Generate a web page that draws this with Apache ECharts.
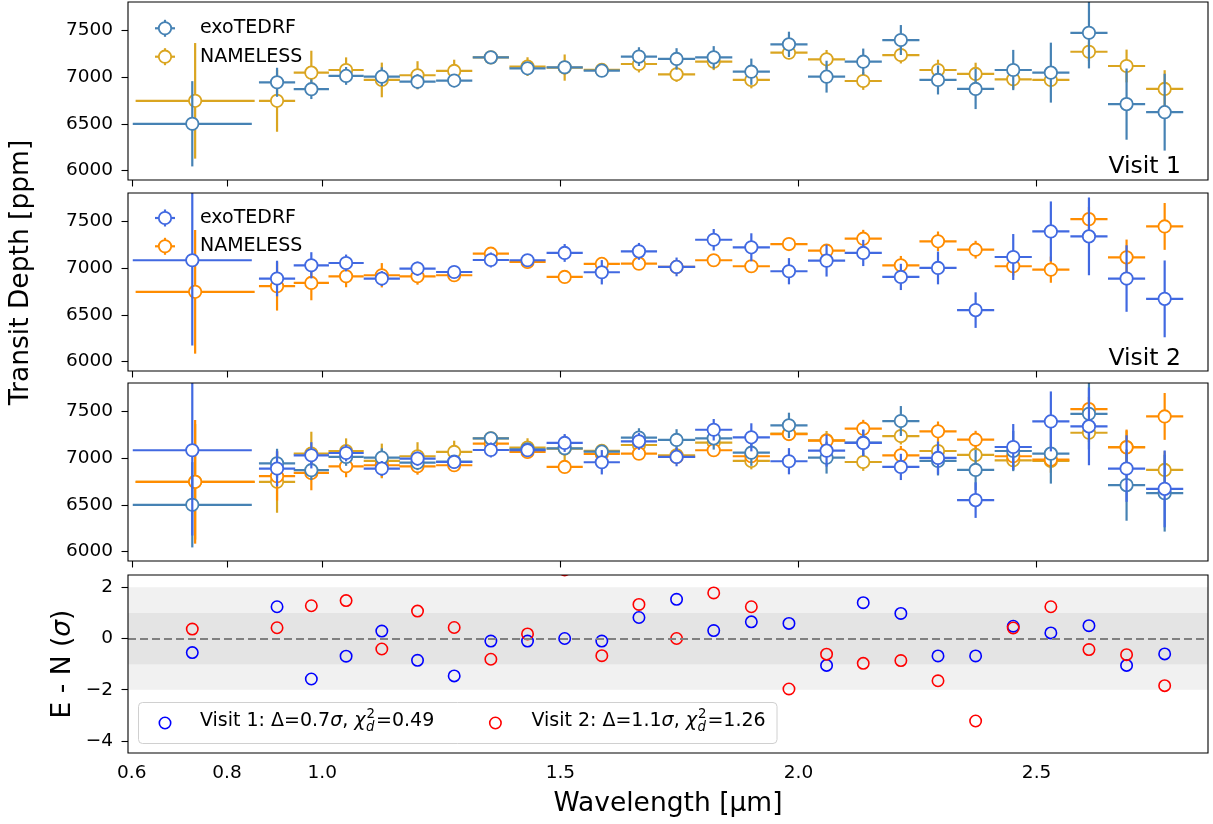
<!DOCTYPE html>
<html><head><meta charset="utf-8">
<script src="https://cdn.jsdelivr.net/npm/echarts@6/dist/echarts.min.js"></script>
<style>html,body{margin:0;padding:0;background:#fff}#c{width:1213px;height:824px}</style>
</head><body><div id="c"></div>
<script>
// ---------------- data ----------------
const wavelength = [0.727, 0.905, 0.977, 1.050, 1.125, 1.200, 1.277, 1.354, 1.431, 1.509, 1.587, 1.665, 1.744, 1.822, 1.901, 1.980, 2.059, 2.136, 2.215, 2.293, 2.372, 2.451, 2.530, 2.610, 2.689, 2.769];
const wavelengthNameless = [0.733, 0.905, 0.977, 1.050, 1.125, 1.200, 1.277, 1.354, 1.431, 1.509, 1.587, 1.665, 1.744, 1.822, 1.901, 1.980, 2.059, 2.136, 2.215, 2.293, 2.372, 2.451, 2.530, 2.610, 2.689, 2.769];
const binHalfWidth = [0.125, 0.038, 0.037, 0.037, 0.038, 0.038, 0.038, 0.038, 0.038, 0.038, 0.038, 0.038, 0.039, 0.039, 0.039, 0.039, 0.039, 0.039, 0.039, 0.039, 0.039, 0.039, 0.039, 0.039, 0.039, 0.039];

// Visit 1
const v1Exo    = [6500, 6943, 6869, 7011, 7003, 6950, 6961, 7209, 7092, 7103, 7067, 7217, 7192, 7209, 7056, 7348, 7003, 7163, 7394, 6968, 6872, 7074, 7046, 7471, 6710, 6624];
const v1ExoErr = [455, 155, 105, 95, 100, 80, 70, 55, 60, 60, 55, 100, 115, 120, 140, 135, 170, 140, 160, 155, 215, 215, 320, 380, 380, 410];
const v1Nam    = [6745, 6745, 7046, 7074, 6968, 7018, 7064, 7209, 7110, 7100, 7075, 7138, 7028, 7163, 6968, 7259, 7188, 6957, 7234, 7074, 7032, 6975, 6968, 7269, 7117, 6872];
const v1NamErr = [617, 330, 234, 135, 185, 150, 120, 60, 100, 140, 55, 90, 80, 90, 90, 70, 100, 95, 90, 110, 120, 100, 80, 100, 175, 200];

// Visit 2
const v2Exo    = [7082, 6887, 7028, 7053, 6887, 6993, 6957, 7085, 7082, 7160, 6954, 7177, 7011, 7301, 7220, 6965, 7078, 7160, 6904, 7000, 6550, 7117, 7390, 7337, 6887, 6670];
const v2ExoErr = [910, 190, 140, 90, 80, 75, 50, 80, 60, 95, 130, 90, 100, 115, 150, 140, 170, 140, 140, 175, 190, 245, 320, 415, 355, 410];
const v2Nam    = [6745, 6805, 6840, 6911, 6922, 6911, 6922, 7152, 7064, 6904, 7043, 7046, 7011, 7082, 7018, 7255, 7184, 7312, 7028, 7284, 7195, 7018, 6982, 7521, 7113, 7443];
const v2NamErr = [660, 260, 185, 117, 130, 90, 50, 50, 70, 40, 40, 40, 40, 40, 40, 40, 40, 95, 100, 105, 95, 100, 140, 130, 190, 250];

// Residuals (E - N in sigma)
const resVisit1 = [-0.55, 1.24, -1.58, -0.69, 0.29, -0.85, -1.46, -0.10, -0.10, 0.00, -0.10, 0.82, 1.53, 0.31, 0.65, 0.59, -1.05, 1.40, 0.98, -0.68, -0.68, 0.48, 0.22, 0.50, -1.05, -0.60];
const resVisit2 = [0.37, 0.42, 1.28, 1.48, -0.41, 1.07, 0.43, -0.81, 0.18, 2.68, -0.67, 1.33, 0.00, 1.78, 1.24, -1.97, -0.61, -0.97, -0.86, -1.65, -3.22, 0.41, 1.24, -0.43, -0.63, -1.84];

const xTicks = [0.6, 0.8, 1.0, 1.5, 2.0, 2.5];
const depthTicks = [6000, 6500, 7000, 7500];
const resTicks = [-4, -2, 0, 2];

// ---------------- styling ----------------
const C = {v1E:'#4682b4', v1N:'#daa520', v2E:'#4169e1', v2N:'#ff8c00', r1:'#0000ff', r2:'#ff0000'};
const FONT = 'DejaVu Sans';
const tickFs = 18.5, legFs = 19, labFs = 26.5;
const gridTops = [2, 193, 383, 575];
const GL = 128, GW = 1080, GH = 178;
const MR = 6.2;

function rows(xs, ys, es) { return xs.map((x, i) => [x, ys[i], binHalfWidth[i], es[i]]); }

function errRender(color) {
  return function (params, api) {
    const x = api.value(0), y = api.value(1), xe = api.value(2), ye = api.value(3);
    const c = api.coord([x, y]);
    const l = api.coord([x - xe, y]), r = api.coord([x + xe, y]);
    const t = api.coord([x, y + ye]), b = api.coord([x, y - ye]);
    return {type: 'group', children: [
      {type: 'line', shape: {x1: l[0], y1: c[1], x2: r[0], y2: c[1]}, style: {stroke: color, lineWidth: 2.2}},
      {type: 'line', shape: {x1: c[0], y1: t[1], x2: c[0], y2: b[1]}, style: {stroke: color, lineWidth: 2.2}},
      {type: 'circle', shape: {cx: c[0], cy: c[1], r: MR}, style: {fill: '#fff', stroke: color, lineWidth: 1.8}}
    ]};
  };
}
function circRender(color) {
  return function (params, api) {
    const c = api.coord([api.value(0), api.value(1)]);
    return {type: 'circle', shape: {cx: c[0], cy: c[1], r: 5.7}, style: {fill: 'none', stroke: color, lineWidth: 1.6}};
  };
}
function errSeries(idx, xs, ys, es, color, z) {
  return {type: 'custom', xAxisIndex: idx, yAxisIndex: idx, clip: true, z: z, silent: true,
    encode: {x: 0, y: 1}, data: rows(xs, ys, es), renderItem: errRender(color)};
}

const series = [
  errSeries(0, wavelengthNameless, v1Nam, v1NamErr, C.v1N, 2),
  errSeries(0, wavelength, v1Exo, v1ExoErr, C.v1E, 3),
  errSeries(1, wavelengthNameless, v2Nam, v2NamErr, C.v2N, 2),
  errSeries(1, wavelength, v2Exo, v2ExoErr, C.v2E, 3),
  errSeries(2, wavelengthNameless, v1Nam, v1NamErr, C.v1N, 2),
  errSeries(2, wavelengthNameless, v2Nam, v2NamErr, C.v2N, 3),
  errSeries(2, wavelength, v1Exo, v1ExoErr, C.v1E, 4),
  errSeries(2, wavelength, v2Exo, v2ExoErr, C.v2E, 5),
  {type: 'line', xAxisIndex: 3, yAxisIndex: 3, data: [[0.6, 0]], symbol: 'none', lineStyle: {width: 0}, z: 1, silent: true,
    markArea: {silent: true, label: {show: false},
      data: [
        [{yAxis: -2, itemStyle: {color: '#f1f1f1'}}, {yAxis: 2}],
        [{yAxis: -1, itemStyle: {color: '#e4e4e4'}}, {yAxis: 1}]
      ]},
    markLine: {silent: true, symbol: ['none', 'none'], label: {show: false},
      lineStyle: {color: '#808080', width: 2, type: [8, 4]}, data: [{yAxis: 0}]}
  },
  {type: 'custom', xAxisIndex: 3, yAxisIndex: 3, clip: true, z: 3, silent: true, encode: {x: 0, y: 1},
    data: wavelength.map((x, i) => [x, resVisit1[i]]), renderItem: circRender(C.r1)},
  {type: 'custom', xAxisIndex: 3, yAxisIndex: 3, clip: true, z: 3, silent: true, encode: {x: 0, y: 1},
    data: wavelength.map((x, i) => [x, resVisit2[i]]), renderItem: circRender(C.r2)}
];

const grids = gridTops.map(t => ({left: GL, top: t, width: GW, height: GH, show: true,
  borderColor: '#000', borderWidth: 1.1, backgroundColor: 'transparent', z: 10}));

const xAxes = [0, 1, 2, 3].map(i => ({type: 'value', gridIndex: i, min: 0.592, max: 2.86,
  axisLine: {show: false}, splitLine: {show: false},
  axisTick: {show: true, customValues: xTicks, length: 6.5, lineStyle: {color: '#000', width: 1.1}},
  axisLabel: {show: i === 3, customValues: xTicks, formatter: v => Number(v).toFixed(1),
    fontSize: tickFs, fontFamily: FONT, color: '#000', margin: 11}
}));

const yAxes = [0, 1, 2].map(i => ({type: 'value', gridIndex: i, min: 5900, max: 7800,
  axisLine: {show: false}, splitLine: {show: false},
  axisTick: {show: true, customValues: depthTicks, length: 6.5, lineStyle: {color: '#000', width: 1.1}},
  axisLabel: {show: true, customValues: depthTicks, formatter: v => String(Math.round(v)),
    fontSize: tickFs, fontFamily: FONT, color: '#000', margin: 15}
}));
yAxes.push({type: 'value', gridIndex: 3, min: -4.47, max: 2.48,
  axisLine: {show: false}, splitLine: {show: false},
  axisTick: {show: true, customValues: resTicks, length: 6.5, lineStyle: {color: '#000', width: 1.1}},
  axisLabel: {show: true, customValues: resTicks, formatter: v => (v < 0 ? '\u2212' + Math.abs(v) : String(v)),
    fontSize: tickFs, fontFamily: FONT, color: '#000', margin: 15}
});

// ---------------- graphic (legends, labels) ----------------
const ctx = document.createElement('canvas').getContext('2d');
function tw(text, size, italic) { ctx.font = (italic ? 'italic ' : '') + size + 'px "' + FONT + '"'; return ctx.measureText(text).width; }

function txt(x, y, text, opts) {
  return Object.assign({type: 'text', x: x, y: y, z: 100, silent: true,
    style: Object.assign({text: text, fill: '#000', fontSize: legFs, fontFamily: FONT, align: 'left', verticalAlign: 'middle'}, opts || {})});
}
function errLegend(x, y, color, label) {
  return [
    {type: 'line', z: 100, silent: true, shape: {x1: x - 10, y1: y, x2: x + 10, y2: y}, style: {stroke: color, lineWidth: 2.2}},
    {type: 'line', z: 100, silent: true, shape: {x1: x, y1: y - 8.5, x2: x, y2: y + 8.5}, style: {stroke: color, lineWidth: 2.2}},
    {type: 'circle', z: 101, silent: true, shape: {cx: x, cy: y, r: MR}, style: {fill: '#fff', stroke: color, lineWidth: 1.8}},
    txt(200, y, label)
  ];
}
function visitLegend(cx, x0, yc, color, head, delta, chi) {
  const fs = legFs, sfs = legFs * 0.7;
  const W = tw(head + delta, fs) + tw('\u03c3', fs, true) + tw(', ', fs) + tw('\u03c7', fs, true);
  const sw = Math.max(tw('2', sfs), tw('d', sfs, true));
  return [
    {type: 'circle', z: 101, silent: true, shape: {cx: cx, cy: yc + 1.5, r: 5.7}, style: {fill: 'none', stroke: color, lineWidth: 1.6}},
    txt(x0, yc, head + delta + '{i|\u03c3}, {i|\u03c7}', {rich: {i: {fontStyle: 'italic', fontSize: fs, fontFamily: FONT, fill: '#000'}}}),
    txt(x0 + W + 1, yc - 6.5, '2', {fontSize: sfs}),
    txt(x0 + W + 0.5, yc + 6, 'd', {fontSize: sfs, fontStyle: 'italic'}),
    txt(x0 + W + sw + 2, yc, '=' + chi)
  ];
}

const graphics = [].concat(
  errLegend(165, 28.3, C.v1E, 'exoTEDRF'),
  errLegend(165, 56.7, C.v1N, 'NAMELESS'),
  errLegend(165, 218, C.v2E, 'exoTEDRF'),
  errLegend(165, 246.3, C.v2N, 'NAMELESS'),
  [
    txt(1181, 167, 'Visit 1', {fontSize: 23.5, align: 'right'}),
    txt(1181, 359, 'Visit 2', {fontSize: 23.5, align: 'right'}),
    Object.assign(txt(21, 272.5, 'Transit Depth [ppm]', {fontSize: labFs, align: 'center'}), {rotation: Math.PI / 2}),
    Object.assign(txt(63, 664, 'E - N ({i|\u03c3})', {fontSize: labFs, align: 'center',
      rich: {i: {fontStyle: 'italic', fontSize: labFs, fontFamily: FONT, fill: '#000'}}}), {rotation: Math.PI / 2}),
    txt(668, 804, 'Wavelength [\u00b5m]', {fontSize: labFs, align: 'center'}),
    {type: 'rect', z: 99, silent: true, shape: {x: 138.5, y: 702.5, width: 638.5, height: 41, r: 4},
      style: {fill: 'rgba(255,255,255,0.8)', stroke: '#d0d0d0', lineWidth: 1}}
  ],
  visitLegend(165, 200, 721.5, C.r1, 'Visit 1: ', '\u0394=0.7', '0.49'),
  visitLegend(495.4, 531.4, 721.5, C.r2, 'Visit 2: ', '\u0394=1.1', '1.26')
);

const chart = echarts.init(document.getElementById('c'), null, {renderer: 'canvas'});
chart.setOption({
  animation: false,
  backgroundColor: '#fff',
  grid: grids,
  xAxis: xAxes,
  yAxis: yAxes,
  series: series,
  graphic: graphics
});
</script>
</body></html>
